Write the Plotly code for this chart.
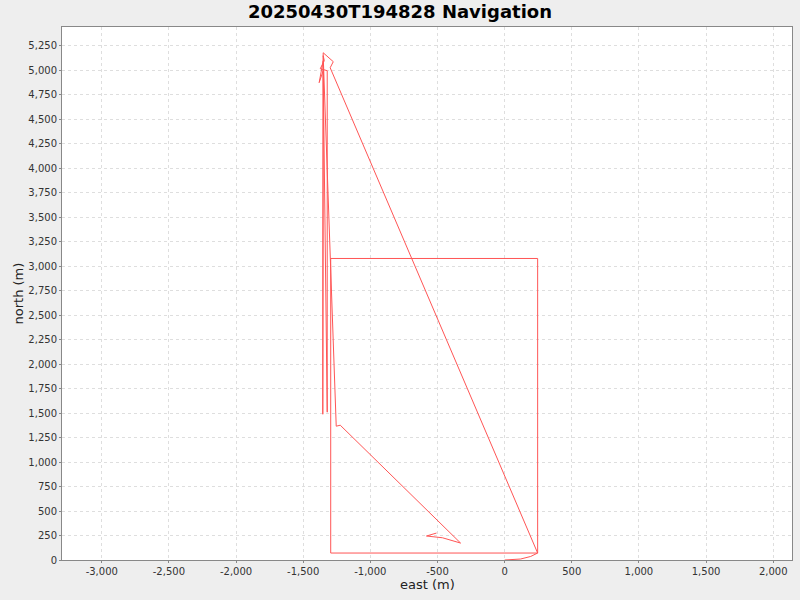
import plotly.graph_objects as go

# Navigation track (east, north) in metres
east = [0, 119, 194, 246, 246, -1295, -1295, 246,
        -1299, -1276, -1351, -1354, -1351, -1381, -1351, -1321, -1321,
        -1373, -1343, -1351, -1254, -1224, -328, -463, -582, -507]
north = [0, 10, 36, 71, 3078, 3078, 71, 71,
         5025, 5087, 5178, 1488, 5097, 4873, 4995, 1509, 4995,
         5015, 5097, 5148, 1366, 1376, 173, 227, 245, 275]

x_ticks = list(range(-3000, 2001, 500))
x_labels = ["-3,000", "-2,500", "-2,000", "-1,500", "-1,000", "-500", "0",
            "500", "1,000", "1,500", "2,000"]
y_ticks = list(range(0, 5251, 250))
y_labels = [f"{v:,}" for v in y_ticks]

fig = go.Figure()
fig.add_trace(go.Scatter(x=east, y=north, mode="lines",
                         line=dict(color="rgb(255,85,85)", width=1),
                         showlegend=False, hoverinfo="skip"))

axis_common = dict(
    showgrid=True, gridcolor="#dedede", griddash="3px,3px", gridwidth=1,
    showline=True, linecolor="#888888", linewidth=1, mirror=True,
    ticks="outside", ticklen=2, tickcolor="#888888",
    tickfont=dict(family="DejaVu Sans", size=10, color="#333333"),
    zeroline=False, automargin=False,
)

fig.update_layout(
    width=800, height=600,
    paper_bgcolor="#eeeeee", plot_bgcolor="white",
    margin=dict(l=62, r=8, t=27, b=40, autoexpand=False),
    title=dict(text="<b>20250430T194828 Navigation</b>", x=0.5, xanchor="center",
               y=0.98, yanchor="middle", automargin=False,
               font=dict(family="DejaVu Sans", size=18, color="black")),
    xaxis=dict(axis_common, range=[-3296, 2140], tickvals=x_ticks, ticktext=x_labels),
    yaxis=dict(axis_common, range=[0, 5441], tickvals=y_ticks, ticktext=y_labels),
    annotations=[
        dict(text="east (m)", xref="paper", yref="paper", x=0.5, y=0,
             xanchor="center", yanchor="middle", yshift=-24, showarrow=False,
             font=dict(family="DejaVu Sans", size=13, color="#222")),
        dict(text="north (m)", xref="paper", yref="paper", x=0, y=0.5,
             xanchor="center", yanchor="middle", xshift=-44, textangle=-90,
             showarrow=False, font=dict(family="DejaVu Sans", size=13, color="#222")),
    ],
)

fig.write_html("out.html", config={"displayModeBar": False},
               post_script="document.body.style.margin='0';document.body.style.padding='0';")
